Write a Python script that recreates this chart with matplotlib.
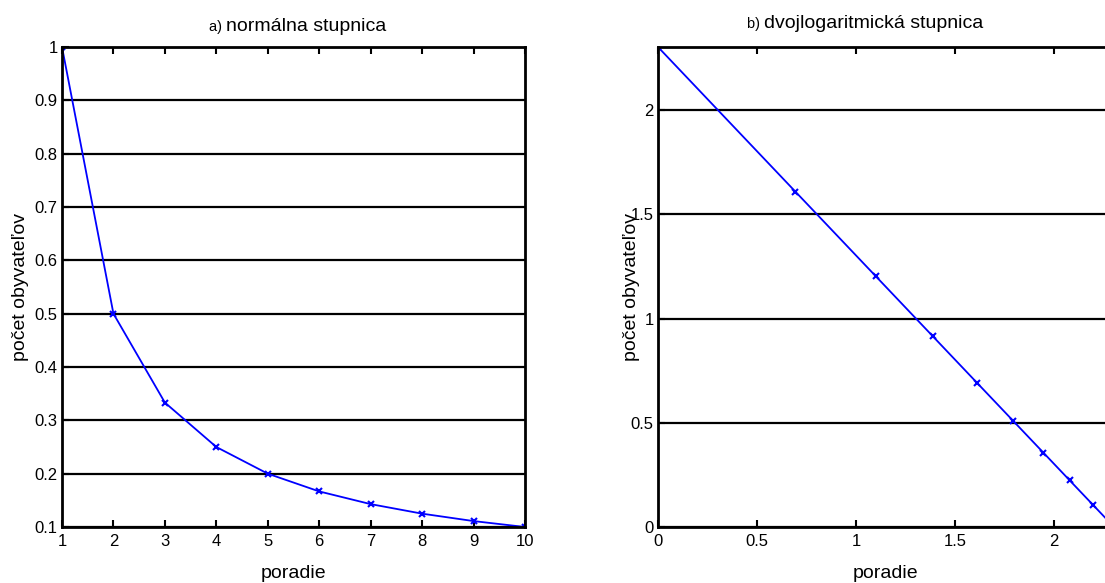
import matplotlib.pyplot as plt

plt.rcParams['font.family'] = ['Liberation Sans', 'DejaVu Sans']

# a) normal scale
poradie = [1, 2, 3, 4, 5, 6, 7, 8, 9, 10]
pocet = [1.0, 0.5, 0.3333, 0.25, 0.2, 0.1667, 0.1429, 0.125, 0.1111, 0.1]

# b) log-log scale (natural log)
ln_poradie = [0.0, 0.6931, 1.0986, 1.3863, 1.6094, 1.7918, 1.9459, 2.0794, 2.1972, 2.3026]
ln_pocet = [2.3026, 1.6094, 1.2040, 0.9163, 0.6931, 0.5108, 0.3567, 0.2231, 0.1054, 0.0]

a_xticks = [1, 2, 3, 4, 5, 6, 7, 8, 9, 10]
a_yticks = [0.1, 0.2, 0.3, 0.4, 0.5, 0.6, 0.7, 0.8, 0.9, 1.0]
a_ylabels = ['0.1', '0.2', '0.3', '0.4', '0.5', '0.6', '0.7', '0.8', '0.9', '1']
b_xticks = [0, 0.5, 1, 1.5, 2]
b_xlabels = ['0', '0.5', '1', '1.5', '2']
b_yticks = [0, 0.5, 1, 1.5, 2]
b_ylabels = ['0', '0.5', '1', '1.5', '2']

W, H = 1105, 583
fig = plt.figure(figsize=(W / 100, H / 100), dpi=100)
ax1 = fig.add_axes([62 / W, 56 / H, 463 / W, 480 / H])
ax2 = fig.add_axes([658 / W, 56 / H, 456 / W, 480 / H])


def style(ax):
    for s in ax.spines.values():
        s.set_linewidth(2)
        s.set_color('black')
    ax.tick_params(direction='in', top=True, right=False, length=5, width=1.5,
                   labelsize=12)
    ax.tick_params(axis='x', pad=5)
    ax.tick_params(axis='y', pad=3)
    ax.yaxis.grid(True, color='black', linewidth=1.6)
    ax.set_axisbelow(True)


ax1.plot(poradie, pocet, color='#0000ff', linewidth=1.3, marker='x',
         markersize=5, markeredgewidth=1.5)
ax1.set_xlim(1, 10)
ax1.set_ylim(0.1, 1)
ax1.set_xticks(a_xticks)
ax1.set_yticks(a_yticks)
ax1.set_yticklabels(a_ylabels)
style(ax1)
ax1.set_xlabel('poradie', fontsize=14, va='center')
ax1.xaxis.set_label_coords(0.5, -0.096)
ax1.set_ylabel('počet obyvateľov', fontsize=14, va='center')
ax1.yaxis.set_label_coords(-0.089, 0.5)
ax1.text(0.354, 1.033, 'a) ', transform=ax1.transAxes, fontsize=10.5,
         ha='right', va='baseline')
ax1.text(0.354, 1.033, 'normálna stupnica', transform=ax1.transAxes,
         fontsize=14, ha='left', va='baseline')

ax2.plot(ln_poradie, ln_pocet, color='#0000ff', linewidth=1.3, marker='x',
         markersize=5, markeredgewidth=1.5)
ax2.set_xlim(0, 2.3026)
ax2.set_ylim(0, 2.3026)
ax2.set_xticks(b_xticks)
ax2.set_xticklabels(b_xlabels)
ax2.set_yticks(b_yticks)
ax2.set_yticklabels(b_ylabels)
style(ax2)
ax2.set_xlabel('poradie', fontsize=14, va='center')
ax2.xaxis.set_label_coords(0.5, -0.096)
ax2.set_ylabel('počet obyvateľov', fontsize=14, va='center')
ax2.yaxis.set_label_coords(-0.059, 0.5)
ax2.text(0.232, 1.04, 'b) ', transform=ax2.transAxes, fontsize=10.5,
         ha='right', va='baseline')
ax2.text(0.232, 1.04, 'dvojlogaritmická stupnica', transform=ax2.transAxes,
         fontsize=14, ha='left', va='baseline')

fig.savefig('out.png', dpi=100)
